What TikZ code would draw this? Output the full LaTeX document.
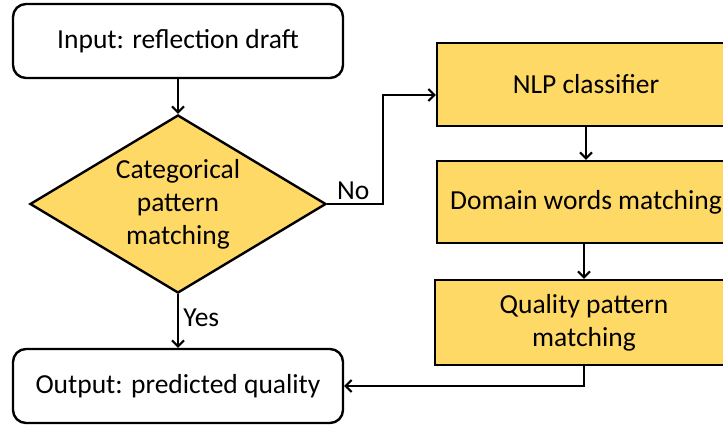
\documentclass[tikz,border=0pt]{standalone}
\usepackage{fontspec}
\setmainfont{Carlito}
\usetikzlibrary{shapes.geometric,arrows.meta}

\definecolor{boxyellow}{HTML}{FFD966}

\tikzset{
	every node/.style={font=\fontsize{27.5}{33}\selectfont},
	termbox/.style={draw, line width=2.4pt, rounded corners=13pt, fill=white,
		minimum width=330pt, minimum height=74pt, inner sep=0pt},
	procbox/.style={draw, line width=2.4pt, fill=boxyellow,
		minimum width=298pt, inner sep=0pt, align=center},
	decision/.style={draw, diamond, line width=2.4pt, fill=boxyellow, aspect=1.66,
		minimum width=296pt, minimum height=178pt, inner sep=0pt, align=center},
	arr/.style={draw, line width=2pt, -{Straight Barb[length=6pt,width=12pt,line width=2pt]}},
}

\begin{document}
\begin{tikzpicture}[x=1pt, y=-1pt]

\def\lx{178}
\def\rx{586}

% page
\clip (0,0) rectangle (723,425);
\fill [white] (0,0) rectangle (723,425);

% left column
\node [termbox] (input) at (\lx,41) {Input: reflection draft};
\node [decision] (cat) at (\lx,204) {Categorical\\pattern\\matching};
\node [termbox] (output) at (\lx,386) {Output: predicted quality};

% right column
\node [procbox, minimum height=83pt] (nlp) at (\rx,84.5) {NLP classifier};
\node [procbox, minimum height=82pt] (domain) at (\rx,202) {Domain words matching};
\node [procbox, minimum height=85pt] (quality) at (\rx-2,322.5) {Quality pattern\\matching};

% arrows
\draw [arr] (input) -- (cat);
\draw [arr] (cat.south) -- node [right, xshift=1pt, yshift=3pt] {Yes} (output.north);
\draw [arr] (cat.east) -- node [above, xshift=-2pt] {No} ++(56,0) |- ([yshift=-10.5pt]nlp.west);
\draw [arr] (nlp.south -| 586,0) -- (domain.north -| 586,0);
\draw [arr] (domain.south -| 584,0) -- (quality.north -| 584,0);
\draw [arr] (quality.south) |- (output.east);

\end{tikzpicture}
\end{document}
